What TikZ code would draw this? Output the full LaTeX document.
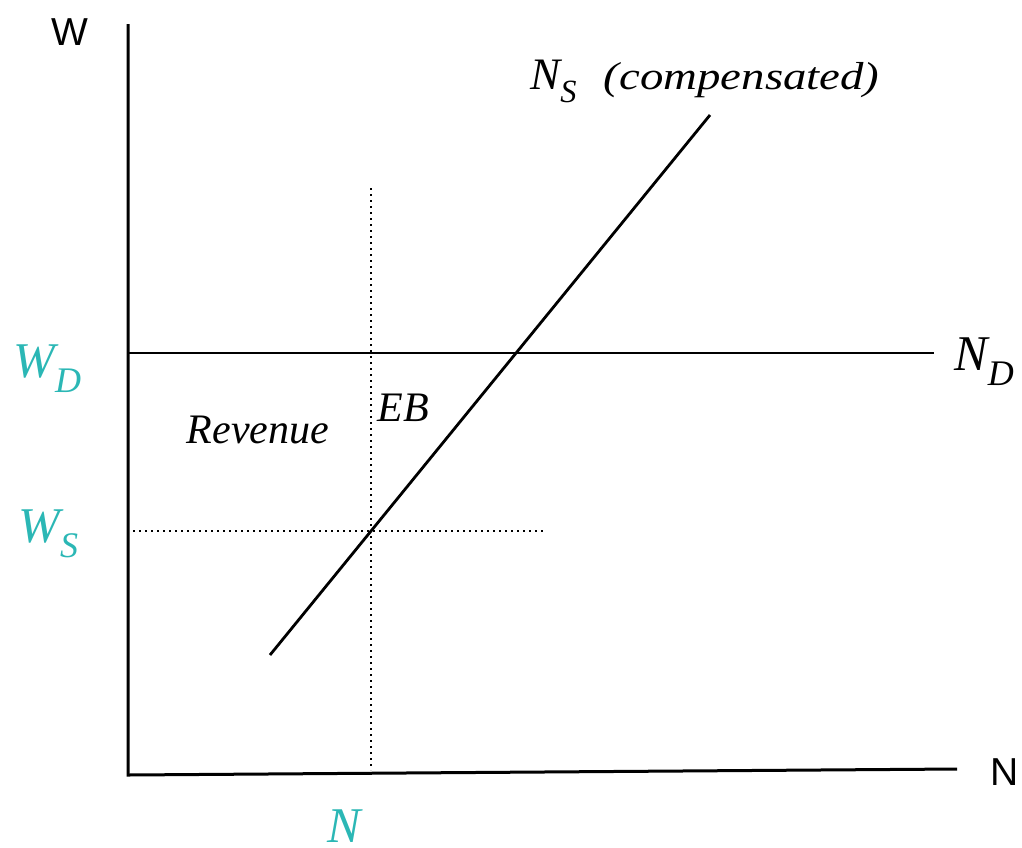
\documentclass[tikz,border=0pt]{standalone}
\usepackage{fontspec}
\setmainfont{Liberation Serif}
\setsansfont{Liberation Sans}
\definecolor{tealc}{RGB}{43,183,181}
\newcommand{\lsub}[1]{\raisebox{-0.3em}{\scalebox{0.72}{#1}}}
\begin{document}
\begin{tikzpicture}[x=0.5pt,y=-0.5pt,
  axisline/.style={line width=1.5pt, black},
  curveline/.style={line width=1.4pt, black},
  dotline/.style={line width=1.3pt, black, dash pattern=on 1pt off 2pt},
  axislabel/.style={font=\sffamily\fontsize{19.5}{22}\selectfont, inner sep=0pt, anchor=base},
  tealmath/.style={text=tealc, font=\itshape\fontsize{25}{28}\selectfont, inner sep=0pt, anchor=base west},
  mathlabel/.style={font=\itshape\fontsize{25}{28}\selectfont, inner sep=0pt, anchor=base west},
  textlabel/.style={font=\itshape\fontsize{21}{24}\selectfont, inner sep=0pt}]
\useasboundingbox (0,0) rectangle (1022,847);
% axes
\coordinate (ytop) at (128,24);
\coordinate (orig) at (128,775);
\coordinate (xend) at (957,769);
\draw[axisline] (ytop) -- (orig) -- (xend);
% demand line
\coordinate (nd0) at (128,353);
\coordinate (nd1) at (934,353);
\draw[curveline] (nd0) -- (nd1);
% supply line
\coordinate (ns0) at (270,655);
\coordinate (ns1) at (710,115);
\draw[curveline] (ns0) -- (ns1);
% dotted lines
\coordinate (v0) at (371,188);
\coordinate (v1) at (371,770);
\draw[dotline] (v0) -- (v1);
\coordinate (h0) at (133,531);
\coordinate (h1) at (543,531);
\draw[dotline] (h0) -- (h1);
% labels
\node[axislabel] (wlab) at (70,45) {W};
\node[axislabel] (nlab) at (1005,785) {N};
\node[tealmath] (wd) at (13,377) {W\lsub{D}};
\node[tealmath] (ws) at (18,542) {W\lsub{S}};
\node[tealmath, anchor=base] (nt) at (344,842) {N};
\node[mathlabel] (ndl) at (954,370) {N\lsub{D}};
\node[textlabel, anchor=base] (rev) at (258,443) {Revenue};
\node[textlabel, anchor=base west] (eb) at (377,421) {EB};
\node[textlabel, anchor=base west, font=\itshape\fontsize{19.5}{22}\selectfont] (nsl) at (530,89)
  {{\fontsize{22.5}{24}\selectfont N\lsub{S}}\hspace{0.7em}\scalebox{1.2}[1]{(compensated)}};
\end{tikzpicture}
\end{document}
